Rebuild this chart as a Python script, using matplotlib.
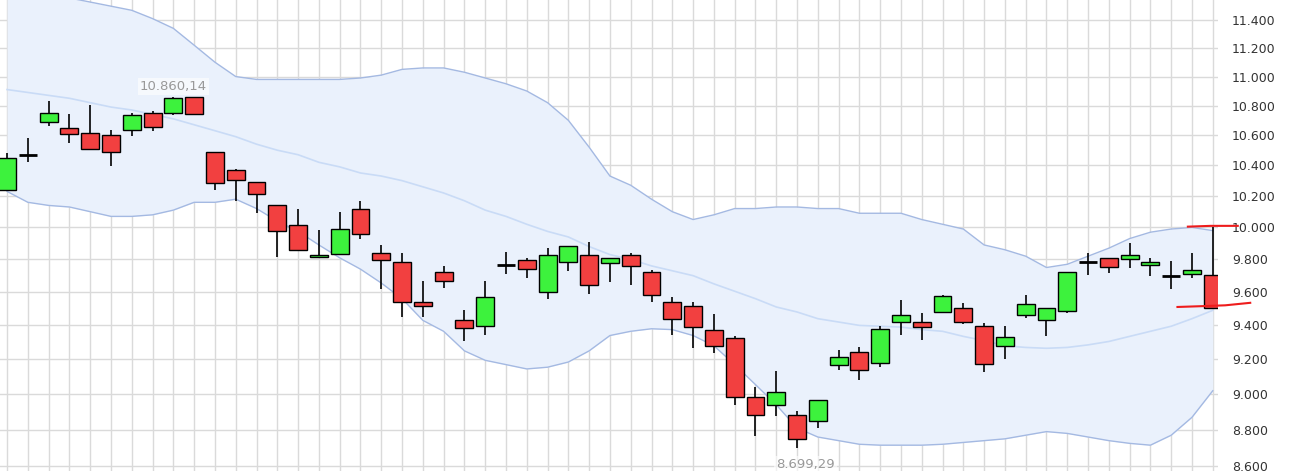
import matplotlib
matplotlib.use("Agg")
import matplotlib.pyplot as plt
from matplotlib.ticker import FixedLocator, NullLocator

opens = [10.239,10.469,10.69,10.647,10.613,10.604,10.633,10.751,10.751,10.858,
         10.49,10.37,10.288,10.143,10.017,9.817,9.835,10.114,9.84,9.785,
         9.54,9.725,9.43,9.398,9.768,9.798,9.6,9.785,9.83,9.78,
         9.83,9.725,9.54,9.515,9.375,9.328,8.983,8.94,8.885,8.85,
         9.165,9.246,9.177,9.422,9.418,9.48,9.505,9.396,9.281,9.463,
         9.434,9.488,9.782,9.808,9.802,9.767,9.70,9.71,9.703]
highs = [10.48,10.58,10.834,10.74,10.802,10.637,10.753,10.762,10.86,10.858,
         10.49,10.378,10.288,10.143,10.12,9.985,10.1,10.166,9.888,9.837,
         9.665,9.762,9.49,9.665,9.846,9.806,9.874,9.885,9.91,9.806,
         9.837,9.735,9.571,9.54,9.465,9.338,9.044,9.135,8.905,8.97,
         9.254,9.27,9.397,9.55,9.473,9.582,9.535,9.414,9.395,9.585,
         9.506,9.722,9.84,9.808,9.9,9.808,9.79,9.84,10.0]
lows = [10.239,10.42,10.662,10.547,10.506,10.395,10.595,10.629,10.735,10.744,
        10.242,10.171,10.092,9.812,9.856,9.817,9.835,9.928,9.62,9.45,
        9.447,9.625,9.31,9.345,9.71,9.685,9.561,9.727,9.59,9.663,
        9.64,9.54,9.345,9.268,9.235,8.94,8.767,8.875,8.70,8.81,
        9.137,9.08,9.157,9.344,9.316,9.48,9.406,9.125,9.2,9.445,
        9.338,9.476,9.703,9.715,9.75,9.70,9.62,9.687,9.506]
closes = [10.448,10.469,10.747,10.611,10.506,10.49,10.733,10.658,10.855,10.744,
          10.282,10.305,10.211,9.98,9.856,9.83,9.99,9.96,9.799,9.54,
          9.515,9.67,9.387,9.571,9.768,9.743,9.83,9.885,9.643,9.806,
          9.76,9.583,9.436,9.39,9.281,8.983,8.88,9.014,8.75,8.97,
          9.212,9.137,9.378,9.459,9.39,9.578,9.418,9.171,9.333,9.525,
          9.506,9.722,9.782,9.755,9.828,9.785,9.70,9.733,9.506]

upper = [11.62,11.6,11.58,11.56,11.53,11.5,11.47,11.41,11.34,11.22,
         11.1,11.0,10.98,10.98,10.98,10.98,10.98,10.99,11.01,11.05,
         11.06,11.06,11.03,10.99,10.95,10.9,10.82,10.7,10.52,10.33,
         10.27,10.18,10.1,10.05,10.08,10.12,10.12,10.13,10.13,10.12,
         10.12,10.09,10.09,10.09,10.05,10.02,9.99,9.89,9.86,9.82,
         9.75,9.77,9.82,9.87,9.93,9.97,9.99,10.0,9.98]
middle = [10.91,10.89,10.87,10.85,10.82,10.79,10.77,10.74,10.71,10.67,
          10.63,10.59,10.54,10.5,10.47,10.42,10.39,10.35,10.33,10.3,
          10.26,10.22,10.17,10.11,10.07,10.02,9.975,9.94,9.88,9.83,
          9.8,9.76,9.73,9.7,9.65,9.605,9.56,9.51,9.48,9.44,
          9.42,9.4,9.395,9.39,9.375,9.365,9.335,9.31,9.28,9.27,
          9.265,9.27,9.285,9.305,9.335,9.365,9.395,9.44,9.49]
lower = [10.23,10.16,10.14,10.13,10.1,10.07,10.07,10.08,10.11,10.16,
         10.16,10.18,10.12,10.04,9.975,9.89,9.81,9.74,9.655,9.56,
         9.43,9.365,9.25,9.195,9.17,9.145,9.155,9.185,9.25,9.34,
         9.365,9.38,9.375,9.34,9.28,9.17,9.055,8.94,8.81,8.76,
         8.74,8.72,8.715,8.715,8.715,8.72,8.73,8.74,8.75,8.77,
         8.79,8.78,8.76,8.74,8.725,8.715,8.77,8.87,9.02]

yticks = [8.6,8.8,9.0,9.2,9.4,9.6,9.8,10.0,10.2,10.4,10.6,10.8,11.0,11.2,11.4]
ytick_labels = ["8.600","8.800","9.000","9.200","9.400","9.600","9.800","10.000",
                "10.200","10.400","10.600","10.800","11.000","11.200","11.400"]
max_label = "10.860,14"
min_label = "8.699,29"
# hand-drawn red marks (index, price)
mark1_x = [56.8, 57.9, 59.2]; mark1_y = [10.005, 10.01, 10.01]
mark2_x = [56.3, 57.5, 58.6, 59.8]; mark2_y = [9.51, 9.515, 9.52, 9.535]

fig = plt.figure(figsize=(12.92, 4.71), dpi=100)
ax = fig.add_axes([0, 0, 1218/1292, 1])
ax.set_yscale("log")
n = len(opens)
xs = list(range(n))

ax.fill_between(xs, lower, upper, color="#eaf1fc", zorder=1, lw=0)
ax.plot(xs, upper, color="#a4b9e2", lw=1, zorder=2)
ax.plot(xs, lower, color="#a4b9e2", lw=1, zorder=2)
ax.plot(xs, middle, color="#c9dbf6", lw=1.2, zorder=2)

w = 0.86
for i in xs:
    o, h, l, c = opens[i], highs[i], lows[i], closes[i]
    ax.vlines(i, l, h, color="black", lw=1.2, zorder=3)
    if abs(c - o) < 0.004:
        ax.hlines(o, i - w/2, i + w/2, color="black", lw=2, zorder=4)
    else:
        col = "#3df23d" if c > o else "#f24040"
        ax.bar(i, abs(c - o), bottom=min(o, c), width=w, color=col,
               edgecolor="black", lw=1, zorder=4)

ax.plot(mark1_x, mark1_y, color="#ee1c1c", lw=1.5, zorder=5, clip_on=False)
ax.plot(mark2_x, mark2_y, color="#ee1c1c", lw=1.5, zorder=5, clip_on=False)

imax = highs.index(max(highs)); imin = lows.index(min(lows))
ax.text(imax, 10.93, max_label, color="#999999", fontsize=9.5, ha="center", va="center",
        bbox=dict(facecolor="white", alpha=0.6, edgecolor="none", pad=1.5), zorder=6)
ax.text(imin + 0.4, 8.61, min_label, color="#999999", fontsize=9.5, ha="center", va="center",
        bbox=dict(facecolor="white", alpha=0.6, edgecolor="none", pad=1.5), zorder=6)

ax.set_xlim(-0.34, 58.25)
ax.set_ylim(8.574, 11.545)
ax.yaxis.set_major_locator(FixedLocator(yticks))
ax.yaxis.set_minor_locator(NullLocator())
ax.set_yticklabels(ytick_labels)
ax.yaxis.tick_right()
ax.tick_params(axis="y", length=0, pad=10, labelsize=9, labelcolor="#333333")
ax.set_xticks(xs)
ax.tick_params(axis="x", length=0, labelbottom=False)
ax.grid(True, color="#dadada", lw=1, zorder=0)
ax.set_axisbelow(True)
for s in ax.spines.values():
    s.set_visible(False)

fig.savefig("out.png", dpi=100)
